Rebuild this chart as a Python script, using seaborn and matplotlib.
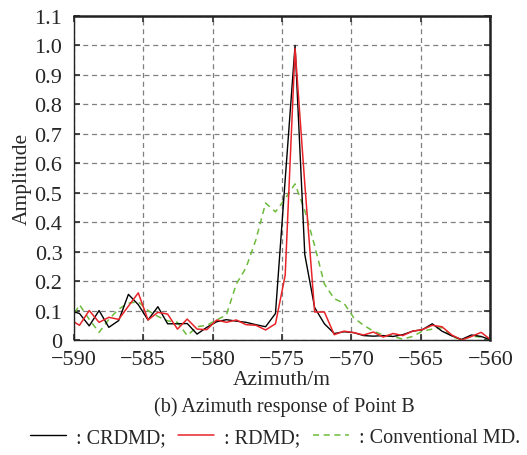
import numpy as np
import matplotlib
matplotlib.use('Agg')
import matplotlib.pyplot as plt
import pandas as pd
import seaborn as sns

# azimuth samples (m)
azimuth = [-590.28, -589.57, -588.87, -588.16, -587.46, -586.75, -586.05, -585.34,
           -584.64, -583.93, -583.23, -582.52, -581.82, -581.11, -580.41, -579.70,
           -579.00, -578.29, -577.59, -576.88, -576.18, -575.47, -574.77, -574.06,
           -573.36, -572.65, -571.95, -571.24, -570.54, -569.83, -569.13, -568.42,
           -567.72, -567.01, -566.31, -565.60, -564.90, -564.19, -563.49, -562.78,
           -562.08, -561.37, -560.67, -559.96]

crdmd = [0.10, 0.09, 0.048, 0.10, 0.043, 0.066, 0.155, 0.12, 0.068, 0.113, 0.055,
         0.055, 0.056, 0.02, 0.043, 0.062, 0.069, 0.064, 0.06, 0.052, 0.045, 0.09,
         0.545, 1.0, 0.29, 0.11, 0.055, 0.022, 0.028, 0.025, 0.015, 0.013, 0.015,
         0.012, 0.018, 0.03, 0.035, 0.055, 0.03, 0.014, 0.002, 0.017, 0.012, 0.0]

rdmd = [0.07, 0.05, 0.10, 0.06, 0.077, 0.07, 0.115, 0.16, 0.068, 0.094, 0.088,
        0.037, 0.071, 0.037, 0.035, 0.068, 0.06, 0.068, 0.052, 0.05, 0.034, 0.055,
        0.22, 0.99, 0.53, 0.095, 0.095, 0.018, 0.03, 0.025, 0.017, 0.027, 0.01,
        0.022, 0.015, 0.03, 0.035, 0.05, 0.045, 0.017, 0.0, 0.012, 0.026, 0.0]

conv_md = [0.06, 0.12, 0.07, 0.026, 0.07, 0.105, 0.125, 0.13, 0.10, 0.08, 0.065,
           0.06, 0.015, 0.045, 0.05, 0.068, 0.085, 0.19, 0.245, 0.34, 0.465, 0.435,
           0.48, 0.53, 0.44, 0.32, 0.19, 0.14, 0.125, 0.075, 0.05, 0.03, 0.017,
           0.012, 0.003, 0.012, 0.03, 0.037, 0.042, 0.012, 0.0, 0.013, 0.01, 0.0]

labels = [': CRDMD;', ': RDMD;', ': Conventional MD.']

df = pd.DataFrame({'az': azimuth, 'crdmd': crdmd, 'rdmd': rdmd, 'conv': conv_md})

sns.set_theme(style='ticks')
plt.rcParams['font.family'] = ['Liberation Serif', 'DejaVu Serif']

fig = plt.figure(figsize=(5.27, 4.56), dpi=100)
ax = fig.add_axes([0.1395, 0.2522, 0.7912, 0.7105])

sns.lineplot(data=df, x='az', y='conv', ax=ax, color='#6dbb3c', lw=1.1,
             linestyle=(0, (4, 3)), label=labels[2])
sns.lineplot(data=df, x='az', y='crdmd', ax=ax, color='black', lw=1.0, label=labels[0])
sns.lineplot(data=df, x='az', y='rdmd', ax=ax, color='#e8242a', lw=1.1, label=labels[1])

ax.set_xlim(-590, -560)
ax.set_ylim(0, 1.1)
ax.set_xticks(np.arange(-590, -559, 5))
ax.set_yticks(np.arange(0, 1.11, 0.1))
ax.set_yticklabels(['0'] + ['%.1f' % v for v in np.arange(0.1, 1.11, 0.1)])
ax.grid(True, color='#7f7f7f', linestyle=(0, (4, 3)), lw=0.9)
ax.tick_params(direction='in', top=True, right=True, labelsize=16, length=4,
               color='#333333')
ax.tick_params(axis='x', pad=7)
ax.tick_params(axis='y', pad=8)
for s in ['left', 'bottom']:
    ax.spines[s].set_linewidth(1.0)
for s in ['top', 'right']:
    ax.spines[s].set_linewidth(1.8)
for s in ax.spines.values():
    s.set_color('#222222')

ax.set_xlabel('Azimuth/m', fontsize=15.5, labelpad=1)
ax.set_ylabel('Amplitude', fontsize=15.5, labelpad=2)

fig.text(0.54, 0.108, '(b) Azimuth response of Point B', ha='center', va='center',
         fontsize=14.5)

ax.get_legend().remove()
h, l = ax.get_legend_handles_labels()
order = [1, 2, 0]
fig.legend([h[i] for i in order], [l[i] for i in order], loc='center',
           bbox_to_anchor=(0.522, 0.038), ncol=3, frameon=False, fontsize=14.5,
           handlelength=1.8, handletextpad=0.5, columnspacing=0.6)

fig.savefig('out.png', dpi=100)
